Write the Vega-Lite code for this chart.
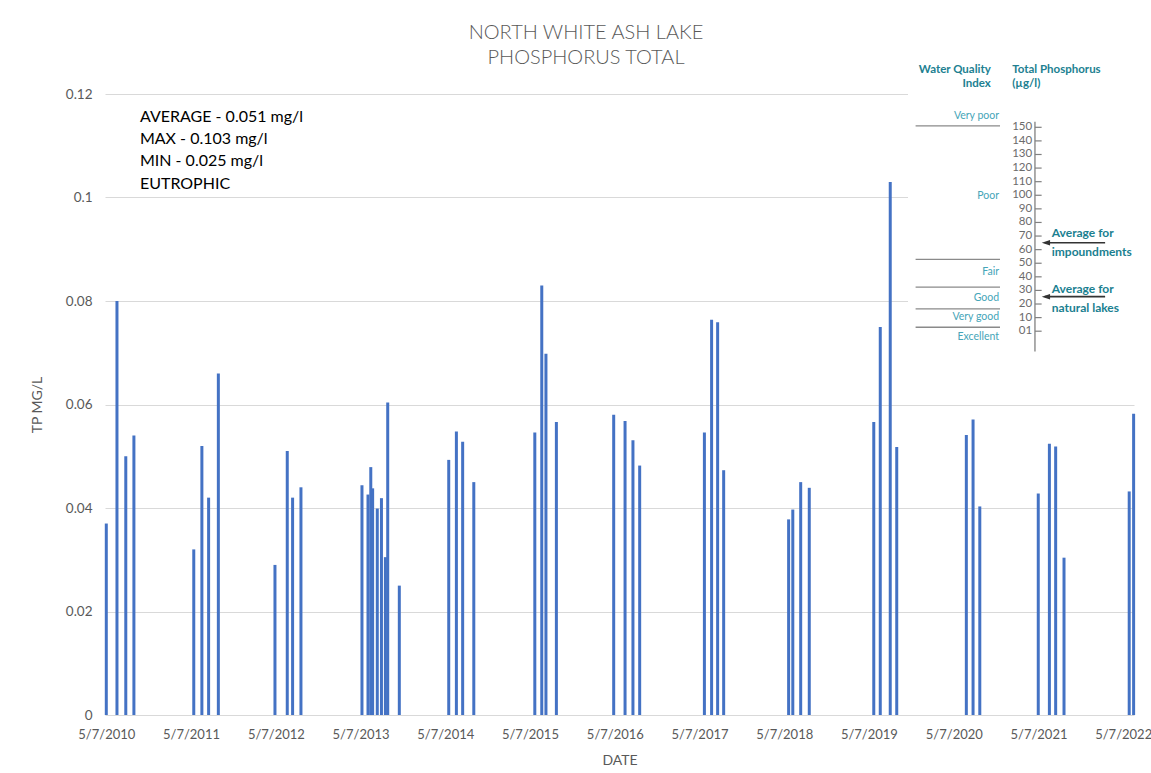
{
  "$schema": "https://vega.github.io/schema/vega-lite/v6.json",
  "width": 1029,
  "height": 621,
  "autosize": {"type": "none"},
  "padding": {"left": 105, "top": 94, "right": 17, "bottom": 58},
  "background": "white",
  "config": {"view": {"stroke": null}, "font": "Lato"},
  "title": {
    "text": ["NORTH WHITE ASH LAKE", "PHOSPHORUS TOTAL"],
    "font": "Lato",
    "fontSize": 20,
    "fontWeight": 300,
    "color": "#595959",
    "lineHeight": 24.3,
    "anchor": "middle",
    "frame": "group",
    "dx": -33.5,
    "baseline": "bottom",
    "offset": -32.5
  },
  "layer": [
    {
      "layer": [
        {
          "data": {
            "values": [
              {"date": "2010/05/07", "tp": 0.037},
              {"date": "2010/06/22", "tp": 0.080},
              {"date": "2010/07/30", "tp": 0.050},
              {"date": "2010/09/03", "tp": 0.054},
              {"date": "2011/05/19", "tp": 0.032},
              {"date": "2011/06/23", "tp": 0.052},
              {"date": "2011/07/22", "tp": 0.042},
              {"date": "2011/09/02", "tp": 0.066},
              {"date": "2012/05/03", "tp": 0.029},
              {"date": "2012/06/25", "tp": 0.051},
              {"date": "2012/07/18", "tp": 0.042},
              {"date": "2012/08/23", "tp": 0.044},
              {"date": "2013/05/13", "tp": 0.0444},
              {"date": "2013/06/08", "tp": 0.0426},
              {"date": "2013/06/20", "tp": 0.0479},
              {"date": "2013/06/28", "tp": 0.0438},
              {"date": "2013/07/18", "tp": 0.0399},
              {"date": "2013/08/05", "tp": 0.0419},
              {"date": "2013/08/22", "tp": 0.0305},
              {"date": "2013/09/01", "tp": 0.0604},
              {"date": "2013/10/21", "tp": 0.025},
              {"date": "2014/05/22", "tp": 0.0493},
              {"date": "2014/06/24", "tp": 0.0548},
              {"date": "2014/07/21", "tp": 0.0528},
              {"date": "2014/09/07", "tp": 0.045},
              {"date": "2015/05/28", "tp": 0.0546},
              {"date": "2015/06/27", "tp": 0.083},
              {"date": "2015/07/15", "tp": 0.0698},
              {"date": "2015/08/29", "tp": 0.0566},
              {"date": "2016/05/02", "tp": 0.058},
              {"date": "2016/06/20", "tp": 0.0568},
              {"date": "2016/07/24", "tp": 0.0531},
              {"date": "2016/08/22", "tp": 0.0482},
              {"date": "2017/05/28", "tp": 0.0546},
              {"date": "2017/06/28", "tp": 0.0764},
              {"date": "2017/07/24", "tp": 0.0759},
              {"date": "2017/08/19", "tp": 0.0473},
              {"date": "2018/05/26", "tp": 0.0378},
              {"date": "2018/06/13", "tp": 0.0397},
              {"date": "2018/07/17", "tp": 0.045},
              {"date": "2018/08/23", "tp": 0.0439},
              {"date": "2019/05/28", "tp": 0.0566},
              {"date": "2019/06/25", "tp": 0.075},
              {"date": "2019/08/07", "tp": 0.103},
              {"date": "2019/09/04", "tp": 0.0518},
              {"date": "2020/06/30", "tp": 0.0541},
              {"date": "2020/07/29", "tp": 0.0571},
              {"date": "2020/08/27", "tp": 0.0403},
              {"date": "2021/05/06", "tp": 0.0428},
              {"date": "2021/06/23", "tp": 0.0524},
              {"date": "2021/07/20", "tp": 0.0519},
              {"date": "2021/08/25", "tp": 0.0304},
              {"date": "2022/06/02", "tp": 0.0432},
              {"date": "2022/06/21", "tp": 0.0582}
            ]
          },
          "mark": {"type": "bar", "width": 3, "color": "#4472c4"},
          "encoding": {
            "x": {
              "field": "date",
              "type": "temporal",
              "scale": {
                "domain": [
                  {"year": 2010, "month": 5, "date": 1, "hours": 10},
                  {"year": 2022, "month": 6, "date": 22, "hours": 16}
                ],
                "nice": false,
                "padding": 0
              },
              "axis": {
                "title": "DATE",
                "values": [
                  {"year": 2010, "month": 5, "date": 7},
                  {"year": 2011, "month": 5, "date": 7},
                  {"year": 2012, "month": 5, "date": 7},
                  {"year": 2013, "month": 5, "date": 7},
                  {"year": 2014, "month": 5, "date": 7},
                  {"year": 2015, "month": 5, "date": 7},
                  {"year": 2016, "month": 5, "date": 7},
                  {"year": 2017, "month": 5, "date": 7},
                  {"year": 2018, "month": 5, "date": 7},
                  {"year": 2019, "month": 5, "date": 7},
                  {"year": 2020, "month": 5, "date": 7},
                  {"year": 2021, "month": 5, "date": 7},
                  {"year": 2022, "month": 5, "date": 7}
                ],
                "format": "%-m/%-d/%Y",
                "grid": false,
                "ticks": false,
                "domain": false,
                "labelFlush": false,
                "labelOverlap": false,
                "labelFont": "Lato",
                "labelFontSize": 13,
                "labelColor": "#595959",
                "labelPadding": 13,
                "titleFont": "Lato",
                "titleFontSize": 14,
                "titleFontWeight": "normal",
                "titleColor": "#595959",
                "titlePadding": 12
              }
            },
            "y": {
              "field": "tp",
              "type": "quantitative",
              "scale": {"domain": [0, 0.12], "nice": false, "padding": 0},
              "axis": {
                "title": "TP MG/L",
                "values": [0, 0.02, 0.04, 0.06, 0.08, 0.1, 0.12],
                "format": "~g",
                "grid": true,
                "gridColor": "#d9d9d9",
                "gridWidth": 1,
                "domain": false,
                "ticks": false,
                "labelFont": "Lato",
                "labelFontSize": 13.5,
                "labelColor": "#595959",
                "labelPadding": 13,
                "titleFont": "Lato",
                "titleFontSize": 14,
                "titleFontWeight": "normal",
                "titleColor": "#595959",
                "titlePadding": 21
              }
            }
          }
        },
        {
          "data": {"values": [{}]},
          "mark": {
            "type": "text",
            "text": ["AVERAGE - 0.051 mg/l", "MAX - 0.103 mg/l", "MIN - 0.025 mg/l", "EUTROPHIC"],
            "align": "left",
            "baseline": "alphabetic",
            "font": "Lato",
            "fontSize": 16,
            "lineHeight": 22.3,
            "color": "#000000"
          },
          "encoding": {
            "x": {"datum": {"year": 2010, "month": 9, "date": 29}, "type": "temporal"},
            "y": {"datum": 0.11465, "type": "quantitative"}
          }
        }
      ]
    },
    {
      "layer": [
        {
          "data": {"values": [{}]},
          "mark": {"type": "rect", "fill": "white"},
          "encoding": {
            "x": {"datum": 0, "type": "quantitative", "scale": {"domain": [-349.13, 98.26], "nice": false, "zero": false}, "axis": null},
            "x2": {"datum": 100},
            "y": {"datum": 203, "type": "quantitative", "scale": {"domain": [-282.35, 174.5], "nice": false, "zero": false}, "axis": null},
            "y2": {"datum": -21}
          }
        },
        {
          "data": {"values": [{"v": 151.0}, {"v": 52.9}, {"v": 32.4}, {"v": 16.4}, {"v": 2.9}]},
          "mark": {"type": "rule", "stroke": "#8a8a8a", "strokeWidth": 1.3},
          "encoding": {
            "x": {"datum": 3.3, "type": "quantitative", "scale": {"domain": [-349.13, 98.26], "nice": false, "zero": false}, "axis": null},
            "x2": {"datum": 40},
            "y": {"field": "v", "type": "quantitative", "scale": {"domain": [-282.35, 174.5], "nice": false, "zero": false}, "axis": null}
          }
        },
        {
          "data": {
            "values": [
              {"label": "Very poor", "v": 158.3},
              {"label": "Poor", "v": 99.5},
              {"label": "Fair", "v": 43.8},
              {"label": "Good", "v": 24.3},
              {"label": "Very good", "v": 10.7},
              {"label": "Excellent", "v": -4.0}
            ]
          },
          "mark": {"type": "text", "align": "right", "baseline": "middle", "font": "Lato", "fontSize": 10.5, "color": "#45a5b8"},
          "encoding": {
            "x": {"datum": 39.6, "type": "quantitative", "scale": {"domain": [-349.13, 98.26], "nice": false, "zero": false}, "axis": null},
            "y": {"field": "v", "type": "quantitative", "scale": {"domain": [-282.35, 174.5], "nice": false, "zero": false}, "axis": null},
            "text": {"field": "label", "type": "nominal"}
          }
        },
        {
          "data": {"values": [{}]},
          "mark": {"type": "rule", "stroke": "#808080", "strokeWidth": 1.3},
          "encoding": {
            "x": {"datum": 55.2, "type": "quantitative", "scale": {"domain": [-349.13, 98.26], "nice": false, "zero": false}, "axis": null},
            "y": {"datum": 154.1, "type": "quantitative", "scale": {"domain": [-282.35, 174.5], "nice": false, "zero": false}, "axis": null},
            "y2": {"datum": -15}
          }
        },
        {
          "data": {
            "values": [
              {"t": 0, "lab": "01"}, {"t": 10, "lab": "10"}, {"t": 20, "lab": "20"}, {"t": 30, "lab": "30"},
              {"t": 40, "lab": "40"}, {"t": 50, "lab": "50"}, {"t": 60, "lab": "60"}, {"t": 70, "lab": "70"},
              {"t": 80, "lab": "80"}, {"t": 90, "lab": "90"}, {"t": 100, "lab": "100"}, {"t": 110, "lab": "110"},
              {"t": 120, "lab": "120"}, {"t": 130, "lab": "130"}, {"t": 140, "lab": "140"}, {"t": 150, "lab": "150"}
            ]
          },
          "layer": [
            {
              "mark": {"type": "rule", "stroke": "#808080", "strokeWidth": 1.2},
              "encoding": {
                "x": {"datum": 55.2, "type": "quantitative", "scale": {"domain": [-349.13, 98.26], "nice": false, "zero": false}, "axis": null},
                "x2": {"datum": 58.1},
                "y": {"field": "t", "type": "quantitative", "scale": {"domain": [-282.35, 174.5], "nice": false, "zero": false}, "axis": null}
              }
            },
            {
              "mark": {"type": "text", "align": "right", "baseline": "middle", "font": "Lato", "fontSize": 11.5, "color": "#6b6b6b"},
              "encoding": {
                "x": {"datum": 54.0, "type": "quantitative", "scale": {"domain": [-349.13, 98.26], "nice": false, "zero": false}, "axis": null},
                "y": {"field": "t", "type": "quantitative", "scale": {"domain": [-282.35, 174.5], "nice": false, "zero": false}, "axis": null},
                "text": {"field": "lab", "type": "nominal"}
              }
            }
          ]
        },
        {
          "data": {"values": [{"v": 65.1}, {"v": 25.4}]},
          "layer": [
            {
              "mark": {"type": "rule", "stroke": "#333333", "strokeWidth": 1.6},
              "encoding": {
                "x": {"datum": 59.5, "type": "quantitative", "scale": {"domain": [-349.13, 98.26], "nice": false, "zero": false}, "axis": null},
                "x2": {"datum": 85.7},
                "y": {"field": "v", "type": "quantitative", "scale": {"domain": [-282.35, 174.5], "nice": false, "zero": false}, "axis": null}
              }
            },
            {
              "mark": {"type": "point", "shape": "M-1,0L1,-0.65L1,0.65Z", "size": 70, "filled": true, "color": "#333333", "opacity": 1},
              "encoding": {
                "x": {"datum": 59.96, "type": "quantitative", "scale": {"domain": [-349.13, 98.26], "nice": false, "zero": false}, "axis": null},
                "y": {"field": "v", "type": "quantitative", "scale": {"domain": [-282.35, 174.5], "nice": false, "zero": false}, "axis": null}
              }
            }
          ]
        },
        {
          "data": {"values": [{"txt": "Average for\nimpoundments", "v": 69.3}, {"txt": "Average for\nnatural lakes", "v": 28.2}]},
          "mark": {"type": "text", "align": "left", "baseline": "alphabetic", "lineBreak": "\n", "lineHeight": 19, "font": "Lato", "fontWeight": "bold", "fontSize": 12, "color": "#1a8090"},
          "encoding": {
            "x": {"datum": 62.5, "type": "quantitative", "scale": {"domain": [-349.13, 98.26], "nice": false, "zero": false}, "axis": null},
            "y": {"field": "v", "type": "quantitative", "scale": {"domain": [-282.35, 174.5], "nice": false, "zero": false}, "axis": null},
            "text": {"field": "txt", "type": "nominal"}
          }
        },
        {
          "data": {"values": [{}]},
          "mark": {"type": "text", "text": ["Water Quality", "Index"], "align": "right", "baseline": "alphabetic", "lineHeight": 14, "font": "Lato", "fontWeight": "bold", "fontSize": 11.5, "color": "#217f91"},
          "encoding": {
            "x": {"datum": 36.0, "type": "quantitative", "scale": {"domain": [-349.13, 98.26], "nice": false, "zero": false}, "axis": null},
            "y": {"datum": 189.6, "type": "quantitative", "scale": {"domain": [-282.35, 174.5], "nice": false, "zero": false}, "axis": null}
          }
        },
        {
          "data": {"values": [{}]},
          "mark": {"type": "text", "text": ["Total Phosphorus", "(µg/l)"], "align": "left", "baseline": "alphabetic", "lineHeight": 14, "font": "Lato", "fontWeight": "bold", "fontSize": 11.5, "color": "#217f91"},
          "encoding": {
            "x": {"datum": 45.3, "type": "quantitative", "scale": {"domain": [-349.13, 98.26], "nice": false, "zero": false}, "axis": null},
            "y": {"datum": 189.6, "type": "quantitative", "scale": {"domain": [-282.35, 174.5], "nice": false, "zero": false}, "axis": null}
          }
        }
      ]
    }
  ],
  "resolve": {"scale": {"x": "independent", "y": "independent"}}
}
